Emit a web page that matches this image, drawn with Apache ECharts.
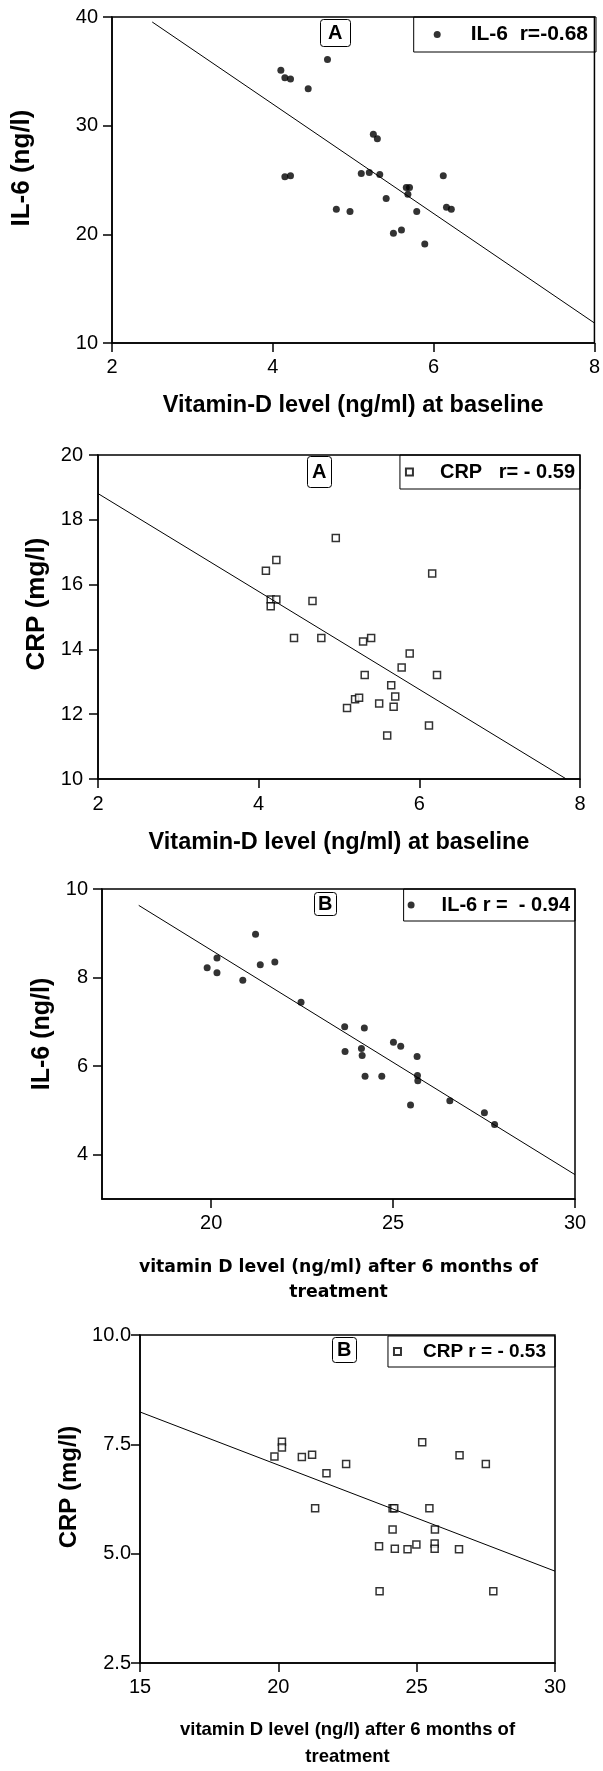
<!DOCTYPE html>
<html>
<head>
<meta charset="utf-8">
<script src="https://cdn.jsdelivr.net/npm/echarts@6/dist/echarts.min.js"></script>
<style>
  html, body { margin: 0; padding: 0; background: #fff; }
  #main { width: 603px; height: 1771px; }
</style>
</head>
<body>
<div id="main"></div>
<script>
  // A: baseline, IL-6
  var il6BaseX = [4.10, 4.15, 4.22, 4.44, 4.68, 4.15, 4.22, 4.79, 4.96, 5.10, 5.20, 5.25, 5.30, 5.33, 5.41, 5.50, 5.60, 5.66, 5.70, 5.68, 5.79, 5.89, 6.12, 6.16, 6.22];
  var il6BaseY = [35.1, 34.4, 34.3, 33.4, 36.1, 25.3, 25.4, 22.3, 22.1, 25.6, 25.7, 29.2, 28.8, 25.5, 23.3, 20.1, 20.4, 24.3, 24.3, 23.7, 22.1, 19.1, 25.4, 22.5, 22.3];
  var il6BaseFitX = [2.5, 8];
  var il6BaseFitY = [39.54, 11.84];

  // A: baseline, CRP
  var crpBaseX = [4.09, 4.22, 4.15, 4.22, 4.15, 4.67, 4.44, 4.78, 4.96, 5.30, 5.40, 5.32, 5.10, 5.20, 5.25, 5.50, 5.60, 5.65, 5.70, 5.68, 5.78, 5.88, 6.12, 6.16, 6.22];
  var crpBaseY = [16.43, 16.76, 15.54, 15.54, 15.33, 15.49, 14.35, 14.35, 17.44, 14.24, 14.35, 13.21, 12.19, 12.46, 12.51, 12.33, 11.34, 12.89, 12.55, 12.23, 13.44, 13.87, 11.65, 16.34, 13.21];
  var crpBaseFitX = [2, 7.83];
  var crpBaseFitY = [18.81, 10];

  // B: after 6 months, IL-6
  var il6AfterX = [19.89, 20.16, 20.16, 20.87, 21.22, 21.35, 21.75, 22.47, 23.67, 23.68, 24.13, 24.15, 24.21, 24.23, 24.69, 25.01, 25.21, 25.48, 25.66, 25.67, 25.68, 26.56, 27.51, 27.79];
  var il6AfterY = [8.22, 8.44, 8.11, 7.94, 8.98, 8.29, 8.35, 7.44, 6.89, 6.33, 6.40, 6.24, 6.86, 5.77, 5.77, 6.54, 6.45, 5.12, 6.22, 5.79, 5.67, 5.22, 4.95, 4.68];
  var il6AfterFitX = [18.01, 30];
  var il6AfterFitY = [9.63, 3.55];

  // B: after 6 months, CRP
  var crpAfterX = [19.86, 20.13, 20.13, 20.85, 21.22, 21.33, 21.74, 22.45, 23.64, 23.66, 24.13, 24.13, 24.19, 24.21, 24.67, 24.99, 25.20, 25.46, 25.66, 25.65, 25.65, 26.53, 26.55, 27.50, 27.77];
  var crpAfterY = [7.22, 7.56, 7.43, 7.21, 7.26, 6.04, 6.84, 7.05, 5.17, 4.14, 5.55, 6.04, 6.04, 5.11, 5.10, 5.21, 7.55, 6.04, 5.55, 5.23, 5.11, 5.10, 7.25, 7.05, 4.14];
  var crpAfterFitX = [15, 30];
  var crpAfterFitY = [8.24, 4.60];

  // tick labels
  var il6AfterXTicks = [20, 25, 30];
  var il6AfterYTicks = [4, 6, 8, 10];

  var FONT = 'Liberation Sans, Arial, sans-serif';

  function pairs(xs, ys) {
    return xs.map(function (x, i) { return [x, ys[i]]; });
  }

  function xAxisOf(i, o) {
    return {
      type: 'value', gridIndex: i, min: o.min, max: o.max, interval: o.interval,
      name: o.name, nameLocation: 'middle', nameGap: o.nameGap,
      nameTextStyle: { fontFamily: o.nameFont || FONT, fontWeight: 'bold', fontSize: o.nameSize, color: '#000', lineHeight: o.nameLine },
      axisLine: { show: true, lineStyle: { color: '#000', width: 1.5 } },
      axisTick: { show: true, length: 9, lineStyle: { color: '#000', width: 1.5 }, customValues: o.ticks },
      axisLabel: { color: '#000', fontFamily: FONT, fontSize: o.labelSize || 20, margin: o.margin, customValues: o.ticks, formatter: o.formatter },
      splitLine: { show: false }
    };
  }

  function yAxisOf(i, o) {
    var a = xAxisOf(i, o);
    a.nameTextStyle.padding = [0, 0, 0, o.shift || 0];
    return a;
  }

  var option = {
    animation: false,
    backgroundColor: '#fff',
    title: [
      { text: 'A', left: 320, top: 19, padding: [4, 8], borderColor: '#000', borderWidth: 1, borderRadius: 3, textStyle: { fontFamily: FONT, fontWeight: 'bold', fontSize: 20, color: '#000' } },
      { text: 'A', left: 307, top: 456, padding: [6, 5], borderColor: '#000', borderWidth: 1, borderRadius: 3, textStyle: { fontFamily: FONT, fontWeight: 'bold', fontSize: 20, color: '#000' } },
      { text: 'B', left: 314, top: 892, padding: [2, 4], borderColor: '#000', borderWidth: 1, borderRadius: 3, textStyle: { fontFamily: FONT, fontWeight: 'bold', fontSize: 20, color: '#000' } },
      { text: 'B', left: 332, top: 1337, padding: [3, 5], borderColor: '#000', borderWidth: 1, borderRadius: 3, textStyle: { fontFamily: FONT, fontWeight: 'bold', fontSize: 20, color: '#000' } }
    ],
    legend: [
      { data: ['IL-6  r=-0.68'], right: 7, top: 17, padding: [7, 8, 7, 20], itemWidth: 7, itemHeight: 7, borderColor: '#000', borderWidth: 1,
        textStyle: { fontFamily: FONT, fontWeight: 'bold', fontSize: 21, color: '#000', padding: [0, 0, 0, 25] } },
      { data: ['CRP   r= - 0.59'], right: 23, top: 455, padding: [7, 5, 7, 5], itemWidth: 7, itemHeight: 7, borderColor: '#000', borderWidth: 1,
        textStyle: { fontFamily: FONT, fontWeight: 'bold', fontSize: 20, color: '#000', padding: [0, 0, 0, 22] } },
      { data: ['IL-6 r =  - 0.94'], right: 28, top: 889, padding: [6, 5, 6, 4], itemWidth: 7, itemHeight: 7, borderColor: '#000', borderWidth: 1,
        textStyle: { fontFamily: FONT, fontWeight: 'bold', fontSize: 20, color: '#000', padding: [0, 0, 0, 22] } },
      { data: ['CRP r = - 0.53'], right: 48, top: 1336, padding: [6, 9, 6, 5], itemWidth: 7, itemHeight: 7, borderColor: '#000', borderWidth: 1,
        textStyle: { fontFamily: FONT, fontWeight: 'bold', fontSize: 19, color: '#000', padding: [0, 0, 0, 17] } }
    ],
    grid: [
      { left: 112, top: 17, width: 484, height: 326, show: true, borderColor: '#000', borderWidth: 1.5 },
      { left: 98, top: 455, width: 482, height: 324, show: true, borderColor: '#000', borderWidth: 1.5 },
      { left: 102, top: 889, width: 473, height: 310, show: true, borderColor: '#000', borderWidth: 1.5 },
      { left: 140, top: 1335, width: 415, height: 333, show: true, borderColor: '#000', borderWidth: 1.5 }
    ],
    xAxis: [
      xAxisOf(0, { min: 2, max: 8, interval: 2, name: 'Vitamin-D level (ng/ml) at baseline', nameGap: 51, nameSize: 23.5, margin: 14 }),
      xAxisOf(1, { min: 2, max: 8, interval: 2, name: 'Vitamin-D level (ng/ml) at baseline', nameGap: 52, nameSize: 23.5, margin: 15 }),
      xAxisOf(2, { min: 17, max: 30, ticks: il6AfterXTicks, name: 'vitamin D level (ng/ml) after 6 months of\ntreatment', nameGap: 56, nameSize: 17.3, nameLine: 25, nameFont: 'DejaVu Sans, sans-serif', margin: 14 }),
      xAxisOf(3, { min: 15, max: 30, interval: 5, name: 'vitamin D level (ng/l) after 6 months of\ntreatment', nameGap: 53, nameSize: 18.5, nameLine: 27, margin: 14 })
    ],
    yAxis: [
      yAxisOf(0, { min: 10, max: 40, interval: 10, name: 'IL-6 (ng/l)', nameGap: 77, nameSize: 26, margin: 14, shift: 24 }),
      yAxisOf(1, { min: 10, max: 20, interval: 2, name: 'CRP (mg/l)', nameGap: 47, nameSize: 26, margin: 15, shift: 26 }),
      yAxisOf(2, { min: 3, max: 10, ticks: il6AfterYTicks, name: 'IL-6 (ng/l)', nameGap: 46, nameSize: 25, margin: 14, shift: 20 }),
      yAxisOf(3, { min: 2.5, max: 10, interval: 2.5, name: 'CRP (mg/l)', nameGap: 58, nameSize: 24, margin: 9, shift: 24,
        formatter: function (v) { return v.toFixed(1); } })
    ],
    series: [
      { name: 'IL-6  r=-0.68', type: 'scatter', xAxisIndex: 0, yAxisIndex: 0, symbol: 'circle', symbolSize: 7,
        itemStyle: { color: '#000' }, data: pairs(il6BaseX, il6BaseY) },
      { type: 'line', xAxisIndex: 0, yAxisIndex: 0, symbol: 'none', silent: true,
        lineStyle: { color: '#000', width: 1 }, data: pairs(il6BaseFitX, il6BaseFitY) },

      { name: 'CRP   r= - 0.59', type: 'scatter', xAxisIndex: 1, yAxisIndex: 1, symbol: 'rect', symbolSize: 7,
        itemStyle: { color: '#fff', borderColor: '#000', borderWidth: 1.5 }, data: pairs(crpBaseX, crpBaseY) },
      { type: 'line', xAxisIndex: 1, yAxisIndex: 1, symbol: 'none', silent: true,
        lineStyle: { color: '#000', width: 1 }, data: pairs(crpBaseFitX, crpBaseFitY) },

      { name: 'IL-6 r =  - 0.94', type: 'scatter', xAxisIndex: 2, yAxisIndex: 2, symbol: 'circle', symbolSize: 7,
        itemStyle: { color: '#000' }, data: pairs(il6AfterX, il6AfterY) },
      { type: 'line', xAxisIndex: 2, yAxisIndex: 2, symbol: 'none', silent: true,
        lineStyle: { color: '#000', width: 1 }, data: pairs(il6AfterFitX, il6AfterFitY) },

      { name: 'CRP r = - 0.53', type: 'scatter', xAxisIndex: 3, yAxisIndex: 3, symbol: 'rect', symbolSize: 7,
        itemStyle: { color: '#fff', borderColor: '#000', borderWidth: 1.5 }, data: pairs(crpAfterX, crpAfterY) },
      { type: 'line', xAxisIndex: 3, yAxisIndex: 3, symbol: 'none', silent: true,
        lineStyle: { color: '#000', width: 1 }, data: pairs(crpAfterFitX, crpAfterFitY) }
    ]
  };

  var myChart = echarts.init(document.getElementById('main'));
  myChart.setOption(option);
</script>
</body>
</html>
